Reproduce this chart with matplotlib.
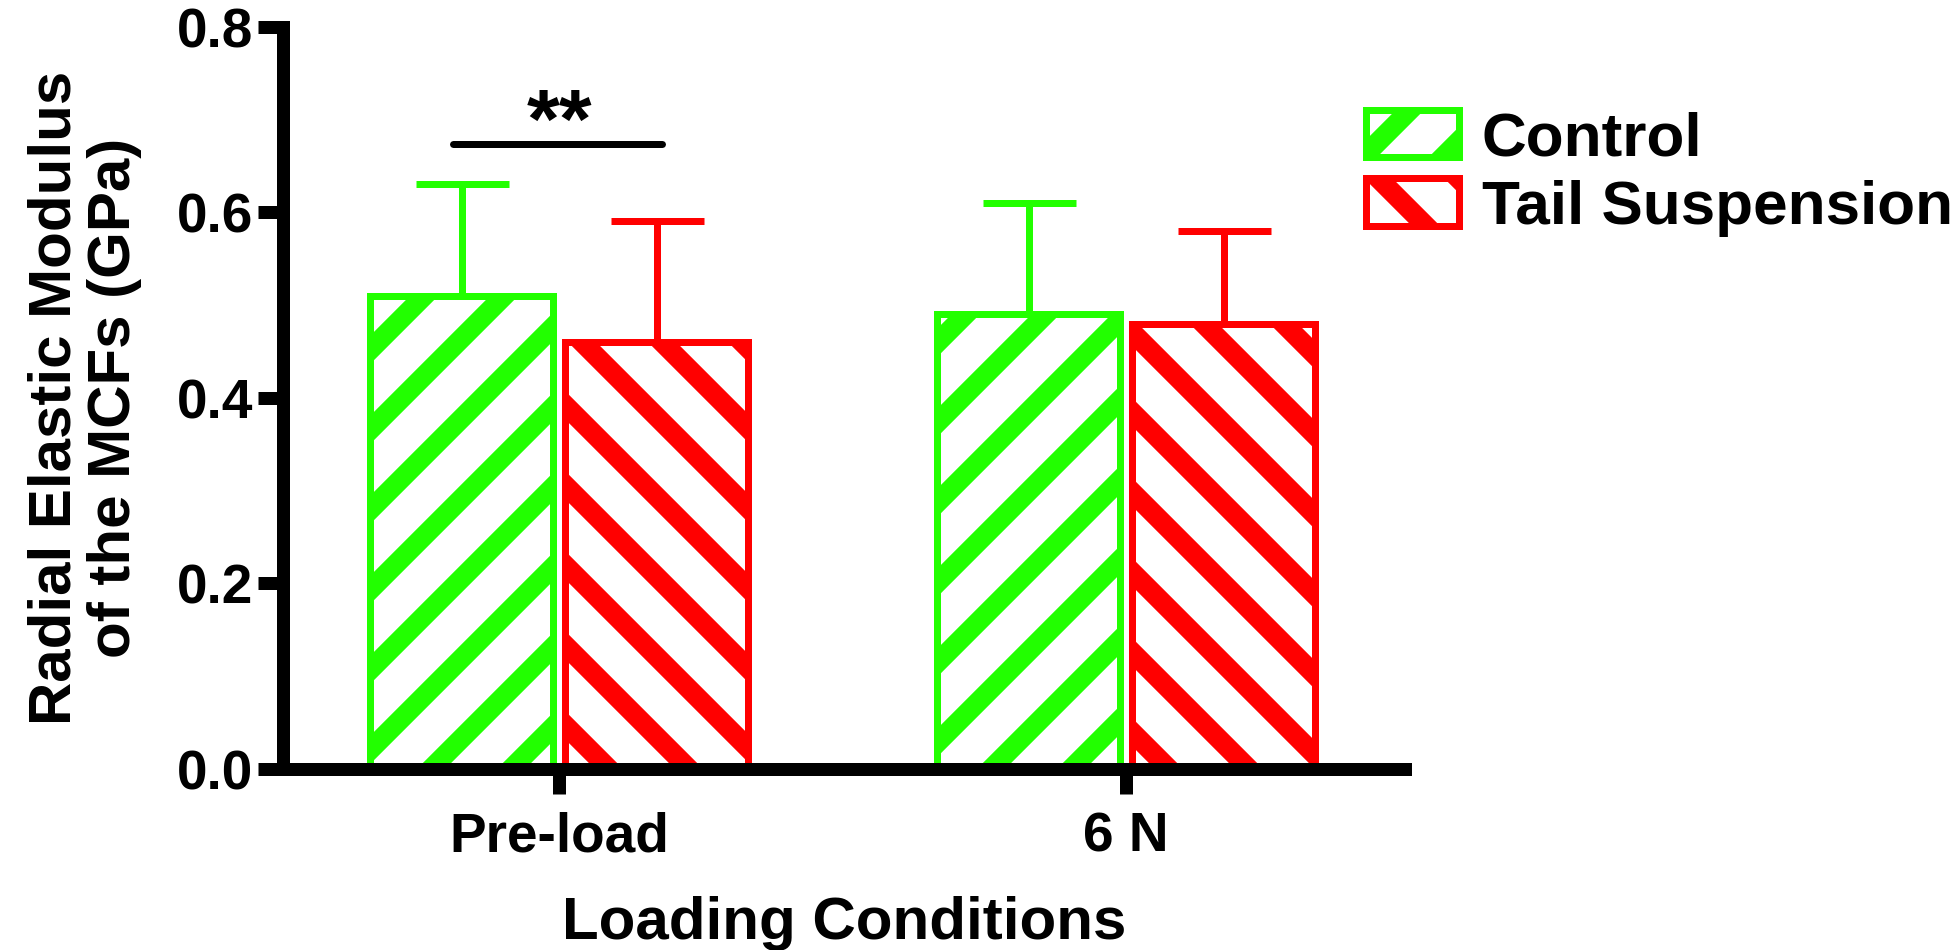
import matplotlib
matplotlib.use('Agg')
import matplotlib.pyplot as plt
import numpy as np

# values
conditions = ['Pre-load', '6 N']
groups = ['Control', 'Tail Suspension']
control_mean = [0.51, 0.49]
control_sd = [0.12, 0.12]
tail_mean = [0.46, 0.48]
tail_sd = [0.13, 0.10]
y_ticks = [0.0, 0.2, 0.4, 0.6, 0.8]
sig_label = '**'
sig_height = 0.673

green = '#22FF00'
red = '#FF0000'

# hatch cell follows the dpi, so a high dpi gives wide stripes
dpi = 480


def pt(px):
    # pixel size -> points at this dpi
    return px * 72 / dpi


plt.rcParams['font.family'] = ['Liberation Sans', 'DejaVu Sans']
plt.rcParams['font.weight'] = 'bold'
plt.rcParams['axes.labelweight'] = 'bold'
plt.rcParams['hatch.linewidth'] = 3.0

fig = plt.figure(figsize=(1958.4 / dpi, 950.4 / dpi), dpi=dpi)
ax = fig.add_axes([283 / 1958, 181 / 950, 1122 / 1958, 742 / 950])

x = np.arange(len(conditions))
w = 0.323
off = 0.172

ax.bar(x - off, control_mean, w, color='white', edgecolor=green, hatch='//',
       linewidth=pt(7), label=groups[0], zorder=2)
ax.bar(x + off, tail_mean, w, color='white', edgecolor=red, hatch='\\\\',
       linewidth=pt(7), label=groups[1], zorder=2)

ax.errorbar(x - off, control_mean, yerr=[np.zeros(len(x)), control_sd], fmt='none',
            ecolor=green, elinewidth=pt(7), capsize=pt(46.5), capthick=pt(7), zorder=1.9)
ax.errorbar(x + off, tail_mean, yerr=[np.zeros(len(x)), tail_sd], fmt='none',
            ecolor=red, elinewidth=pt(7), capsize=pt(46.5), capthick=pt(7), zorder=1.9)

# significance bar over Pre-load
ax.plot([x[0] - off - 0.015, x[0] + off + 0.01], [sig_height, sig_height],
        color='black', lw=pt(7), solid_capstyle='round')
ax.text(x[0], sig_height - 0.003, sig_label, ha='center', va='baseline',
        fontsize=pt(84))

ax.set_xlim(-0.487, 1.492)
ax.set_ylim(0, 0.8)
ax.set_xticks(x)
ax.set_xticklabels(conditions)
ax.set_yticks(y_ticks)
ax.set_yticklabels(['%.1f' % t for t in y_ticks])

for s in ['top', 'right']:
    ax.spines[s].set_visible(False)
for s in ['left', 'bottom']:
    ax.spines[s].set_linewidth(pt(13))

ax.tick_params(axis='both', length=pt(25), width=pt(13), labelsize=pt(55))
ax.tick_params(axis='y', pad=pt(5))
ax.tick_params(axis='x', pad=pt(17))

ax.set_ylabel('Radial Elastic Modulus\nof the MCFs (GPa)', fontsize=pt(60),
              linespacing=1.1, va='center')
ax.yaxis.set_label_coords(-0.177, 0.5)
ax.set_xlabel('Loading Conditions', fontsize=pt(60))
ax.xaxis.set_label_coords(0.5, -0.170)

ax.legend(loc='upper left', bbox_to_anchor=(1366 / 1958, 1 - 110 / 950),
          bbox_transform=fig.transFigure, frameon=False, fontsize=pt(62),
          handlelength=1.5, handleheight=0.8, handletextpad=0.36,
          labelspacing=0.17, borderpad=0, borderaxespad=0)

fig.savefig('out.png', dpi=dpi)
